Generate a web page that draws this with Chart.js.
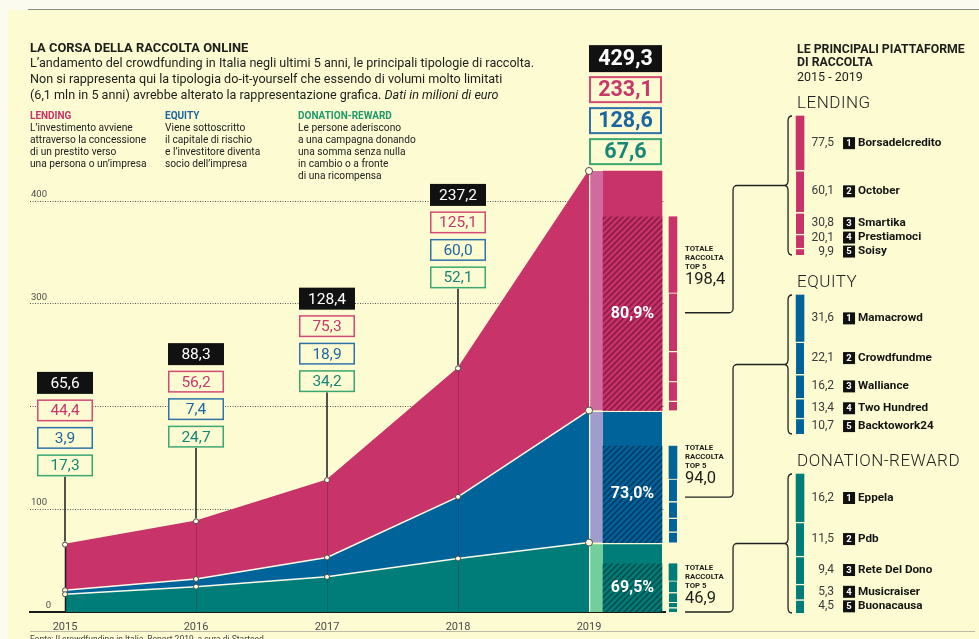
<!DOCTYPE html>
<html>
<head>
<meta charset="utf-8">
<title>La corsa della raccolta online</title>
<script src="https://cdn.jsdelivr.net/npm/chart.js@4.4.1/dist/chart.umd.min.js"></script>
<style>
  html, body { margin: 0; padding: 0; background: #fbfbef; }
  #page { position: relative; width: 979px; height: 639px; overflow: hidden; font-family: Roboto, "Noto Sans", sans-serif; color: #1d1d1b; }
  #paper { position: absolute; left: 8px; top: 10px; width: 971px; height: 629px; background: #fdfbd2; }
  #ruleTop { position: absolute; left: 28px; top: 9px; width: 951px; border-top: 1.5px solid #8c8c84; }
  #ruleBottom { position: absolute; left: 30px; top: 631px; width: 945px; border-top: 1.5px solid #bdbca8; }
  #chart { position: absolute; left: 0; top: 0; z-index: 1; }
  .txt { position: absolute; z-index: 2; white-space: nowrap; }
  .leg { font: 400 10.2px/12px Roboto; color: #222; }
  .leg b { font-size: 10px; }
</style>
</head>
<body>
<div id="page">
  <div id="paper"></div>
  <div id="ruleTop"></div>
  <canvas id="chart" width="979" height="639"></canvas>

  <div class="txt" style="left:30px;top:39.5px;font:700 12.9px/15px Roboto;">LA CORSA DELLA RACCOLTA ONLINE</div>
  <div class="txt" style="left:30px;top:54.5px;font:400 12.6px/16px Roboto;">L’andamento del crowdfunding in Italia negli ultimi 5 anni, le principali tipologie di raccolta.<br>Non si rappresenta qui la tipologia do-it-yourself che essendo di volumi molto limitati<br>(6,1 mln in 5 anni) avrebbe alterato la rappresentazione grafica. <i>Dati in milioni di euro</i></div>

  <div class="txt leg" style="left:30px;top:110px;"><b style="color:#c8336a">LENDING</b><br>L’investimento avviene<br>attraverso la concessione<br>di un prestito verso<br>una persona o un’impresa</div>
  <div class="txt leg" style="left:165px;top:110px;"><b style="color:#1c66a0">EQUITY</b><br>Viene sottoscritto<br>il capitale di rischio<br>e l’investitore diventa<br>socio dell’impresa</div>
  <div class="txt leg" style="left:298px;top:110px;"><b style="color:#1f9a6a">DONATION-REWARD</b><br>Le persone aderiscono<br>a una campagna donando<br>una somma senza nulla<br>in cambio o a fronte<br>di una ricompensa</div>

  <div class="txt" style="left:797px;top:42.5px;font:700 12.3px/13px Roboto;">LE PRINCIPALI PIATTAFORME<br>DI RACCOLTA</div>
  <div class="txt" style="left:797px;top:70px;font:400 12.5px/14px Roboto;">2015 - 2019</div>

  <div id="ruleBottom"></div>
  <div class="txt" style="left:30px;top:634px;font:400 8.5px/10px Roboto;color:#444;">Fonte: Il crowdfunding in Italia, Report 2019, a cura di Starteed</div>
</div>

<script>
  // data, milioni di euro
  var years = [2015, 2016, 2017, 2018, 2019];
  var lending = [44.4, 56.2, 75.3, 125.1, 233.1];
  var equity = [3.9, 7.4, 18.9, 60.0, 128.6];
  var donation = [17.3, 24.7, 34.2, 52.1, 67.6];
  var yTicks = [0, 100, 200, 300, 400];
  var yTickLabels = [0, 100, 300, 400];   // 200 sits under the 2015 boxes

  // top 5 platforms 2015-2019; group order: donation-reward, equity, lending
  var groupLabels = ['DONATION-REWARD', 'EQUITY', 'LENDING'];
  var shareTop5 = [69.5, 73.0, 80.9];
  var totalTop5 = [46.9, 94.0, 198.4];
  var lendingNames = ['Borsadelcredito', 'October', 'Smartika', 'Prestiamoci', 'Soisy'];
  var lendingTop = [77.5, 60.1, 30.8, 20.1, 9.9];
  var equityNames = ['Mamacrowd', 'Crowdfundme', 'Walliance', 'Two Hundred', 'Backtowork24'];
  var equityTop = [31.6, 22.1, 16.2, 13.4, 10.7];
  var donationNames = ['Eppela', 'Pdb', 'Rete Del Dono', 'Musicraiser', 'Buonacausa'];
  var donationTop = [16.2, 11.5, 9.4, 5.3, 4.5];

  // layout
  var AREA_TOP = 160, AREA_BOTTOM = 612;
  var labelLevel = [132, 160, 214, 315, 435];   // where each year's stack of boxes ends (value units)
  var panelTop = [474, 295, 116], PANEL_H = 139;
  var top5TextShift = [4, 2, 32];
  var connectorDrop = [45, 49, 64];
  var last = years.length - 1;
  var xStrip = years[last] + 0.054, xSolid = years[last] + 0.332;
  var xSmall = years[last] + 0.641, xPanel = years[last] + 1.611;

  var CREAM = '#fdfbd2';
  var groupColor = ['#007d78', '#00649b', '#c8336a'];
  var groupLight = ['#72cf9b', '#a09ccd', '#cf6b9e'];
  var groupStripe = ['#004f4c', '#003c66', '#8e1c47'];

  var cumEquity = donation.map((v, i) => v + equity[i]);
  var totals = cumEquity.map((v, i) => v + lending[i]);
  var col = [donation[last], equity[last], lending[last]];
  var colBase = [0, col[0], col[0] + col[1]];
  var groupNames = [donationNames, equityNames, lendingNames];
  var groupTop = [donationTop, equityTop, lendingTop];
  var sum = a => a.reduce((s, v) => s + v, 0);
  var fmt = v => v.toFixed(1).replace('.', ',');

  function hatch(base, stripe) {
    var c = document.createElement('canvas');
    c.width = c.height = 6;
    var g = c.getContext('2d');
    g.fillStyle = base; g.fillRect(0, 0, 6, 6);
    g.strokeStyle = stripe; g.lineWidth = 1.8;
    g.beginPath();
    g.moveTo(-1, 7); g.lineTo(7, -1);
    g.moveTo(-1, 1); g.lineTo(1, -1);
    g.moveTo(5, 7); g.lineTo(7, 5);
    g.stroke();
    return g.createPattern(c, 'repeat');
  }

  var pointSizes = years.map((_, i) => i === last ? 3.5 : 2.5);
  function area(values, fill, color, border) {
    return {
      type: 'line', order: 0,
      data: years.map((yr, i) => ({ x: yr, y: values[i] })),
      fill: fill, backgroundColor: color, borderColor: border, borderWidth: 1.5,
      pointRadius: pointSizes, pointBackgroundColor: '#fffde6',
      pointBorderColor: '#4a4a4a', pointBorderWidth: 1
    };
  }
  function bars(data, colors, thickness, widths, extra) {
    return Object.assign({
      type: 'bar', data: data, backgroundColor: colors, borderColor: CREAM,
      borderWidth: widths, borderSkipped: false, barThickness: thickness, grouped: false
    }, extra || {});
  }

  // 2019 column: light strip, solid bar, hatched top-5 share
  var stripData = col.map((v, k) => ({ x: xStrip, y: [colBase[k], colBase[k] + v] }));
  var solidData = col.map((v, k) => ({ x: xSolid, y: [colBase[k], colBase[k] + v] }));
  var hatchData = col.map((v, k) => ({ x: xSolid, y: [colBase[k], colBase[k] + shareTop5[k] / 100 * v] }));

  // small stacked bars of the five platforms, sized to the hatched part
  var smallData = [], smallColors = [], smallBorders = [];
  groupTop.forEach((vals, k) => {
    var f = shareTop5[k] / 100 * col[k] / sum(vals);
    var lo = colBase[k];
    for (var j = vals.length - 1; j >= 0; j--) {
      var hi = lo + vals[j] * f;
      smallData.push({ x: xSmall, y: [lo, hi] });
      smallColors.push(groupColor[k]);
      smallBorders.push(j > 0 ? { top: 1.5 } : 0);
      lo = hi;
    }
  });

  // right-hand panels, each on its own hidden scale
  var panelSets = groupTop.map((vals, k) => {
    var hi = sum(vals);
    var data = vals.map(v => { var seg = { x: xPanel, y: [hi - v, hi] }; hi -= v; return seg; });
    return bars(data, groupColor[k], 8, vals.map((_, j) => j > 0 ? { top: 1.5 } : 0),
      { yAxisID: 'p' + k, clip: false, order: 6 });
  });
  function panelScale(k) {
    var s = sum(groupTop[k]);
    var pb = panelTop[k] + PANEL_H, pt = panelTop[k];
    var range = s * (AREA_BOTTOM - AREA_TOP) / (pb - pt);
    var min = -(AREA_BOTTOM - pb) * range / (AREA_BOTTOM - AREA_TOP);
    return { type: 'linear', display: false, min: min, max: min + range };
  }

  function drawBox(ctx, cx, top, w, h, text, style, font, lw) {
    var left = cx - w / 2;
    ctx.fillStyle = style.fill;
    ctx.fillRect(left, top, w, h);
    if (style.stroke) {
      ctx.strokeStyle = style.stroke; ctx.lineWidth = lw;
      ctx.strokeRect(left + lw / 2, top + lw / 2, w - lw, h - lw);
    }
    ctx.fillStyle = style.color; ctx.font = font;
    ctx.textAlign = 'center'; ctx.textBaseline = 'middle';
    ctx.fillText(text, cx, top + h / 2 + 1);
  }
  var boxStyles = [
    { fill: '#111111', stroke: null, color: '#ffffff' },
    { fill: CREAM, stroke: '#d24a75', color: '#c8386a' },
    { fill: CREAM, stroke: '#2f72aa', color: '#1c66a0' },
    { fill: CREAM, stroke: '#3aa870', color: '#168676' }
  ];

  function brace(ctx, bx, top, bottom) {
    var mid = (top + bottom) / 2;
    ctx.beginPath();
    ctx.moveTo(bx + 4, top);
    ctx.quadraticCurveTo(bx, top, bx, top + 5);
    ctx.lineTo(bx, mid - 5);
    ctx.quadraticCurveTo(bx, mid, bx - 4, mid);
    ctx.quadraticCurveTo(bx, mid, bx, mid + 5);
    ctx.lineTo(bx, bottom - 5);
    ctx.quadraticCurveTo(bx, bottom, bx + 4, bottom);
    ctx.stroke();
  }

  var overlay = {
    id: 'overlay',
    afterDatasetsDraw(chart) {
      var ctx = chart.ctx, x = chart.scales.x, y = chart.scales.y;
      var y0 = y.getPixelForValue(0);
      ctx.save();

      // value axis numbers sitting on the dotted lines
      ctx.font = '9.5px Roboto'; ctx.fillStyle = '#4d4d4d'; ctx.textBaseline = 'alphabetic';
      yTickLabels.forEach(v => {
        ctx.textAlign = v === 0 ? 'right' : 'left';
        ctx.fillText(String(v), v === 0 ? x.left + 21 : x.left + 1, y.getPixelForValue(v) - 4);
      });

      // year rules through the areas (dark at 2015), skipping the points
      years.forEach((yr, i) => {
        if (i === last) return;
        var px = Math.round(x.getPixelForValue(yr)) + 0.5;
        var stops = [totals[i], cumEquity[i], donation[i]].map(v => y.getPixelForValue(v));
        stops.push(y0 + 3);
        ctx.strokeStyle = i === 0 ? '#1a1a1a' : 'rgba(40,0,20,0.22)';
        ctx.lineWidth = i === 0 ? 1.5 : 1;
        for (var s = 0; s < 3; s++) {
          if (stops[s + 1] - stops[s] < 7) continue;
          ctx.beginPath(); ctx.moveTo(px, stops[s] + 3); ctx.lineTo(px, stops[s + 1] - 3); ctx.stroke();
        }
      });

      // leaders and value boxes
      years.forEach((yr, i) => {
        var big = i === last;
        var w = big ? 73 : 56, h = big ? 27 : 22, gap = big ? 4 : 5.5;
        var cx = big ? x.getPixelForValue(yr) + 36.5 : x.getPixelForValue(yr);
        var bottom = y.getPixelForValue(labelLevel[i]);
        if (!big) {
          ctx.strokeStyle = '#1a1a1a'; ctx.lineWidth = 1.5;
          ctx.beginPath(); ctx.moveTo(cx, bottom); ctx.lineTo(cx, y.getPixelForValue(totals[i]) - 3); ctx.stroke();
        }
        [totals[i], lending[i], equity[i], donation[i]].forEach((v, r) => {
          var top = bottom - (4 - r) * h - (3 - r) * gap;
          drawBox(ctx, cx, top, w, h, fmt(v), boxStyles[r],
            big ? '700 21.5px Roboto' : '400 15.5px Roboto', big ? 2 : 1.5);
        });
      });

      // share of the top five inside the hatched parts
      ctx.font = '700 16px Roboto'; ctx.fillStyle = '#ffffff';
      ctx.textAlign = 'center'; ctx.textBaseline = 'middle';
      col.forEach((v, k) => {
        var hh = shareTop5[k] / 100 * v;
        ctx.fillText(fmt(shareTop5[k]) + '%', x.getPixelForValue(xSolid), y.getPixelForValue(colBase[k] + hh / 2));
      });

      // totals of the top five, connectors, braces and platform lists
      groupTop.forEach((vals, k) => {
        var hh = shareTop5[k] / 100 * col[k];
        var barTop = y.getPixelForValue(colBase[k] + hh);
        var tx = x.getPixelForValue(xSmall) + 12;
        var ty = barTop + top5TextShift[k];
        ctx.fillStyle = '#1d1d1b'; ctx.textAlign = 'left'; ctx.textBaseline = 'middle';
        ctx.font = '700 7.8px Roboto';
        ['TOTALE', 'RACCOLTA', 'TOP 5'].forEach((s, n) => ctx.fillText(s, tx, ty + n * 9));
        ctx.font = '400 16.5px Roboto';
        ctx.fillText(fmt(totalTop5[k]), tx, ty + 31);

        var ps = chart.scales['p' + k];
        var s = sum(vals);
        var pTop = ps.getPixelForValue(s), pBot = ps.getPixelForValue(0), mid = (pTop + pBot) / 2;
        var pc = x.getPixelForValue(xPanel);
        var bx = pc - 12, jx = bx - 55;
        var cy0 = Math.min(ty + connectorDrop[k], y0);
        ctx.strokeStyle = '#222'; ctx.lineWidth = 1.3;
        ctx.beginPath();
        ctx.moveTo(tx, cy0);
        ctx.arcTo(jx, cy0, jx, mid, 4);
        ctx.arcTo(jx, mid, bx - 4, mid, 4);
        ctx.lineTo(bx - 4, mid);
        ctx.stroke();
        brace(ctx, bx, pTop, pBot);

        ctx.font = '300 17px Roboto'; ctx.fillStyle = '#222';
        ctx.letterSpacing = '0.5px';
        ctx.fillText(groupLabels[k], pc - 3, pTop - 12.5);
        ctx.letterSpacing = '0px';

        var hi = s, centers = [];
        vals.forEach(v => {
          centers.push((ps.getPixelForValue(hi) + ps.getPixelForValue(hi - v)) / 2);
          hi -= v;
        });
        for (var j = centers.length - 2; j >= 0; j--) centers[j] = Math.min(centers[j], centers[j + 1] - 14);
        vals.forEach((v, j) => {
          var cy = centers[j];
          ctx.font = '400 12px Roboto'; ctx.fillStyle = '#3a3a3a'; ctx.textAlign = 'right';
          ctx.fillText(fmt(v), pc + 34, cy);
          ctx.fillStyle = '#111'; ctx.fillRect(pc + 43, cy - 6, 12, 12);
          ctx.fillStyle = '#fff'; ctx.font = '700 9.5px Roboto'; ctx.textAlign = 'center';
          ctx.fillText(String(j + 1), pc + 49, cy + 0.5);
          ctx.fillStyle = '#141414'; ctx.font = '700 11.7px Roboto'; ctx.textAlign = 'left';
          ctx.fillText(groupNames[k][j], pc + 58, cy);
        });
      });
      ctx.restore();
    }
  };

  var ctx = document.getElementById('chart').getContext('2d');
  new Chart(ctx, {
    type: 'line',
    data: {
      datasets: [
        area(donation, 'origin', groupColor[0], '#fdfbe6'),
        area(cumEquity, '-1', groupColor[1], '#fdfbe6'),
        area(totals, '-1', groupColor[2], groupColor[2]),
        bars(stripData, groupLight, 14, [{ top: 2, left: 1.5 }, { top: 2, left: 1.5 }, { left: 1.5 }], { order: 8 }),
        bars(solidData, groupColor, 59, [{ top: 2 }, { top: 2 }, 0], { order: 8 }),
        bars(hatchData, groupColor.map((c, k) => hatch(c, groupStripe[k])), 59, 0, { order: 7 }),
        bars(smallData, smallColors, 8, smallBorders, { order: 7, clip: false })
      ].concat(panelSets)
    },
    options: {
      responsive: false,
      animation: false,
      devicePixelRatio: 1,
      layout: { padding: { left: 30, right: 314, top: AREA_TOP, bottom: 4 } },
      plugins: { legend: { display: false }, tooltip: { enabled: false } },
      events: [],
      scales: {
        x: {
          type: 'linear', offset: false,
          min: 2015 - 35 / 131, max: 2015 + 600 / 131,
          afterBuildTicks: s => { s.ticks = years.map(v => ({ value: v })); },
          afterFit: s => { s.height = 23; },
          grid: { display: false, drawTicks: false },
          border: { display: true, color: '#1a1a1a', width: 2 },
          ticks: {
            callback: v => String(v), autoSkip: false, maxRotation: 0, padding: 9,
            color: '#4b4b4b', font: { family: 'Roboto', size: 11 }
          }
        },
        y: {
          min: 0, max: 440,
          afterBuildTicks: s => { s.ticks = yTicks.filter(v => v > 0).map(v => ({ value: v })); },
          afterFit: s => { s.width = 0; },
          grid: { color: '#5a5a5a', lineWidth: 1, drawTicks: false },
          border: { display: false, dash: [1, 1.5] },
          ticks: { display: false }
        },
        p0: panelScale(0),
        p1: panelScale(1),
        p2: panelScale(2)
      }
    },
    plugins: [overlay]
  });
</script>
</body>
</html>
